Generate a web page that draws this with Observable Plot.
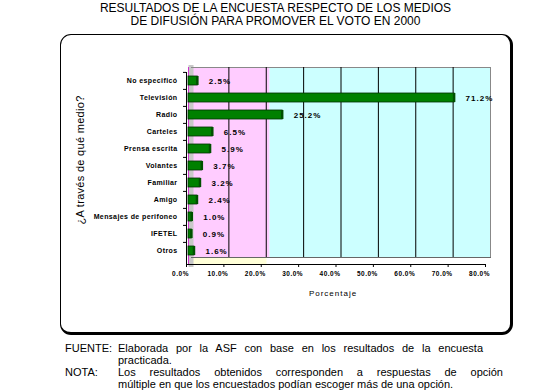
<!DOCTYPE html>
<html>
<head>
<meta charset="utf-8">
<script src="https://cdn.jsdelivr.net/npm/d3@7"></script>
<script src="https://cdn.jsdelivr.net/npm/@observablehq/plot@0.6"></script>
<style>
  html, body { margin: 0; padding: 0; background: #fff; }
  body { width: 551px; height: 391px; position: relative; overflow: hidden; font-family: "Liberation Sans", Arial, sans-serif; }
  #title { position: absolute; left: 0; top: 2px; width: 551px; text-align: center; font-size: 12px; line-height: 13px; color: #000; }
  #box { position: absolute; left: 60px; top: 34px; width: 453px; height: 301px; box-sizing: border-box;
         border-style: solid; border-color: #000; border-width: 1px 3px 3px 1px; border-radius: 11px; background: #fff; }
  #chart { position: absolute; left: 0; top: 30px; }
  #chart svg { overflow: visible; }
  #notes { position: absolute; left: 65px; top: 342px; font-size: 11px; line-height: 12px; color: #000; }
  .row { display: flex; }
  .lab { width: 53px; flex: none; }
  .jl { text-align: justify; text-align-last: justify; }
  g[aria-label="y-axis tick label"] text { letter-spacing: 0.4px; }
  g[aria-label="x-axis tick label"] text { letter-spacing: 0.5px; }
  .vals text { letter-spacing: 1px; }
  .xlab text { letter-spacing: 1px; }
  .ylab text { letter-spacing: 0.3px; }
</style>
</head>
<body>
<div id="title">RESULTADOS DE LA ENCUESTA RESPECTO DE LOS MEDIOS<br>DE DIFUSIÓN PARA PROMOVER EL VOTO EN 2000</div>
<div id="box"></div>
<div id="chart"></div>
<div id="notes">
  <div class="row"><div class="lab">FUENTE:</div><div class="jl" style="width:365px">Elaborada por la ASF con base en los resultados de la encuesta</div></div>
  <div class="row"><div class="lab"></div><div>practicada.</div></div>
  <div class="row"><div class="lab">NOTA:</div><div class="jl" style="width:385px">Los resultados obtenidos corresponden a respuestas de opción</div></div>
  <div class="row"><div class="lab"></div><div>múltiple en que los encuestados podían escoger más de una opción.</div></div>
</div>
<script>
const medios = ["No especificó", "Televisión", "Radio", "Carteles", "Prensa escrita", "Volantes",
                "Familiar", "Amigo", "Mensajes de perifoneo", "IFETEL", "Otros"];
const porcentajes = [2.5, 71.2, 25.2, 6.5, 5.9, 3.7, 3.2, 2.4, 1.0, 0.9, 1.6];
const xTicks = [0, 10, 20, 30, 40, 50, 60, 70, 80];
const gridTicks = [10, 20, 30, 40, 50, 60, 70];
const zonas = [{x1: 0, x2: 21, fill: "#ffccff"}, {x1: 21, x2: 80, fill: "#ccffff"}];
const tituloY = "¿A través de qué medio?";
const tituloX = "Porcentaje";

const data = medios.map((m, i) => ({medio: m, pct: porcentajes[i]}));
const fmt = d => d.toFixed(1) + "%";

const chart = Plot.plot({
  width: 551,
  height: 308,
  marginLeft: 188,
  marginRight: 64,
  marginTop: 37,
  marginBottom: 74,
  style: {fontFamily: "'Liberation Sans', Arial, sans-serif", color: "#000", background: "transparent"},
  x: {domain: [0, 80], ticks: xTicks},
  y: {domain: medios, paddingInner: 0.45, paddingOuter: 0.42},
  marks: [
    // back wall zones
    Plot.rectX(zonas, {x1: "x1", x2: "x2", fill: "fill", dx: 3, insetBottom: 7}),
    // floor under pink zone
    Plot.rectX(zonas.slice(0, 1), {x1: "x1", x2: "x2", fill: "#ffffd8", insetTop: 190}),
    // left side wall
    Plot.frame({anchor: "left", stroke: "#c8c8c8", strokeWidth: 5, dx: 2.5}),
    Plot.frame({anchor: "left", stroke: "#cc33cc", strokeWidth: 1, dx: 0}),
    // wall edges
    Plot.frame({anchor: "top", stroke: "#888", dx: 3}),
    Plot.frame({anchor: "right", stroke: "#888", dx: 3, insetBottom: 7}),
    Plot.frame({anchor: "bottom", stroke: "#666", dy: -7, dx: 3}),
    // grid
    Plot.ruleX(gridTicks, {stroke: "#000", strokeWidth: 1, dx: 3, insetBottom: 7}),
    // bars
    Plot.barX(data, {y: "medio", x: "pct", fill: "#008000", stroke: "#003000", strokeWidth: 0.8}),
    Plot.tickX(data, {y: "medio", x: "pct", stroke: "#005000", strokeWidth: 2.5, dx: -0.5}),
    // values
    Plot.text(data, {y: "medio", x: "pct", text: d => fmt(d.pct), dx: 11, textAnchor: "start",
                     fontSize: 8, fontWeight: "bold", className: "vals"}),
    // y axis
    Plot.ruleX([0], {stroke: "#000", dx: -2, insetTop: 5}),
    Plot.axisY({tickSize: 3, text: null, dy: -8.6, dx: -2, label: null}),
    Plot.axisY({tickSize: 0, tickPadding: 11, fontSize: 7, fontWeight: "bold", label: null}),
    // x axis
    Plot.frame({anchor: "bottom", stroke: "#000", dx: -2}),
    Plot.axisX({ticks: xTicks, tickSize: 3, text: null, dx: -2, label: null}),
    Plot.axisX({ticks: xTicks, tickSize: 0, tickPadding: 7, tickFormat: fmt, fontSize: 6.5,
                fontWeight: "bold", dx: -8, label: null}),
    // titles
    Plot.text([tituloY], {frameAnchor: "left", rotate: -90, dx: -108, dy: -6, fontSize: 11,
                          textAnchor: "middle", lineAnchor: "middle", className: "ylab"}),
    Plot.text([tituloX], {frameAnchor: "bottom", dx: -5, dy: 29, fontSize: 8, textAnchor: "middle",
                          lineAnchor: "middle", className: "xlab"})
  ]
});
document.getElementById("chart").appendChild(chart);
</script>
</body>
</html>
